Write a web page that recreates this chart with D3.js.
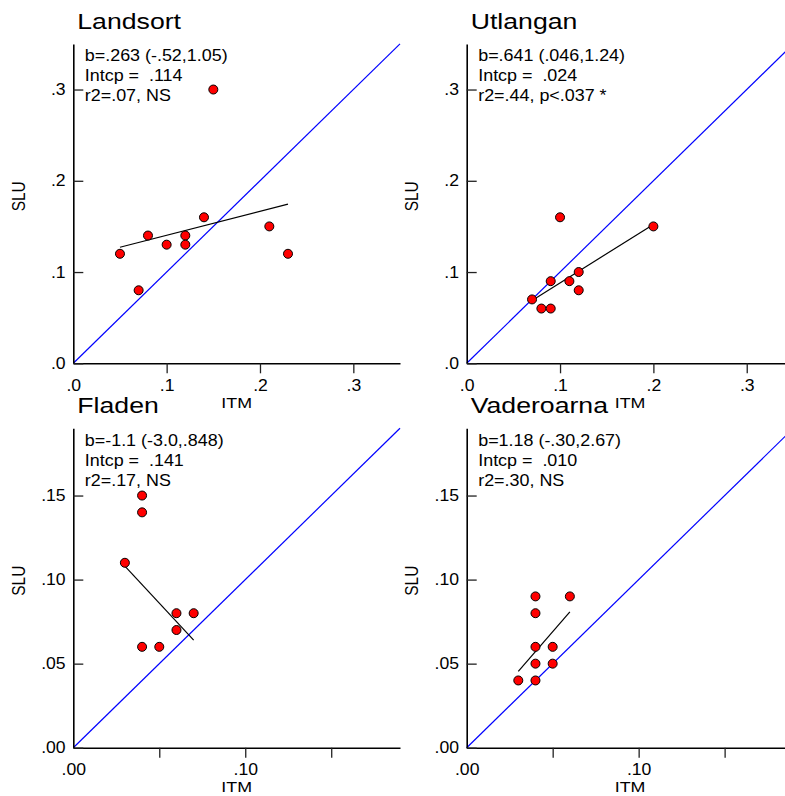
<!DOCTYPE html>
<html>
<head>
<meta charset="utf-8">
<script src="https://cdn.jsdelivr.net/npm/d3@7"></script>
<style>
  body { margin: 0; background: #fff; }
  svg { display: block; font-family: "Liberation Sans", Arial, sans-serif; }
</style>
</head>
<body>
<svg id="chart"></svg>
<script>
// data (ITM on x, SLU on y)
const sites = ["Landsort", "Utlangan", "Fladen", "Vaderoarna"];
const itm = [
  [.05, .07, .08, .10, .12, .12, .14, .15, .21, .23],
  [.07, .08, .09, .09, .10, .11, .12, .12, .20],
  [.03, .04, .04, .04, .05, .06, .06, .07],
  [.03, .04, .04, .04, .04, .04, .05, .05, .06]
];
const slu = [
  [.12, .08, .14, .13, .14, .13, .16, .30, .15, .12],
  [.07, .06, .06, .09, .16, .09, .10, .08, .15],
  [.11, .15, .14, .06, .06, .08, .07, .08],
  [.04, .04, .05, .06, .08, .09, .06, .05, .09]
];
const slopes = [.263, .641, -1.1, 1.18];
const intercepts = [.114, .024, .141, .010];
const statLines = [
  ["b=.263 (-.52,1.05)", "Intcp =  .114", "r2=.07, NS"],
  ["b=.641 (.046,1.24)", "Intcp =  .024", "r2=.44, p<.037 *"],
  ["b=-1.1 (-3.0,.848)", "Intcp =  .141", "r2=.17, NS"],
  ["b=1.18 (-.30,2.67)", "Intcp =  .010", "r2=.30, NS"]
];
const axisMax = [.35, .35, .19, .19];
const topTicks = [0, .1, .2, .3];
const topTickLabels = [".0", ".1", ".2", ".3"];
const lowTicks = [0, .05, .10, .15];
const lowYLabels = [".00", ".05", ".10", ".15"];
const lowXLabels = [".00", "", ".10", ""];

// layout
const W = 785, H = 796;
const panelW = 326.7, panelH = 319.4;
const origins = [
  { x: 73.3, y: 363.3 }, { x: 466.7, y: 363.3 },
  { x: 73.3, y: 747.7 }, { x: 466.7, y: 747.7 }
];
const STRETCH = { title: 1.24, stats: 1.12, tick: 1.1, axis: 1.15 };

const svg = d3.select("#chart").attr("width", W).attr("height", H);

// text drawn at (x,y) and widened horizontally
function label(g, str, x, y, size, s, anchor = "start") {
  return g.append("text")
    .attr("transform", `translate(${x},${y}) scale(${s},1)`)
    .attr("font-size", size)
    .attr("text-anchor", anchor)
    .style("white-space", "pre")
    .text(str);
}

sites.forEach((site, i) => {
  const o = origins[i];
  const isTop = i < 2;
  const g = svg.append("g");

  const x = d3.scaleLinear().domain([0, axisMax[i]]).range([o.x, o.x + panelW]);
  const y = d3.scaleLinear().domain([0, axisMax[i]]).range([o.y, o.y - panelH]);

  const ticks = isTop ? topTicks : lowTicks;
  const xLabels = isTop ? topTickLabels : lowXLabels;
  const yLabels = isTop ? topTickLabels : lowYLabels;

  // identity line
  g.append("line")
    .attr("x1", x(0)).attr("y1", y(0))
    .attr("x2", x(axisMax[i])).attr("y2", y(axisMax[i]))
    .attr("stroke", "#0000ff").attr("stroke-width", 1.2);

  // x axis, ticks pointing down
  const xAxisG = g.append("g")
    .attr("transform", `translate(0,${o.y})`)
    .call(d3.axisBottom(x).tickValues(ticks)
      .tickFormat((d, k) => xLabels[k])
      .tickSizeInner(10).tickSizeOuter(0).tickPadding(6));
  xAxisG.selectAll(".tick").filter(d => d === 0).select("line").remove();

  // y axis, ticks pointing in
  const yAxisG = g.append("g")
    .attr("transform", `translate(${o.x},0)`)
    .call(d3.axisLeft(y).tickValues(ticks)
      .tickFormat((d, k) => yLabels[k])
      .tickSizeInner(-10).tickSizeOuter(0).tickPadding(7));

  [xAxisG, yAxisG].forEach(a => {
    a.select(".domain").attr("stroke", "#000").attr("stroke-width", 1.6);
    a.selectAll(".tick line").attr("stroke", "#222").attr("stroke-width", 1.3);
    a.selectAll(".tick text")
      .attr("font-size", 16)
      .attr("font-family", "Liberation Sans, Arial, sans-serif")
      .attr("fill", "#000")
      .attr("transform", `scale(${STRETCH.tick},1)`);
  });
  xAxisG.selectAll(".tick text").attr("transform", null)
    .each(function () {
      const t = d3.select(this);
      t.attr("transform", `translate(0,0) scale(${STRETCH.tick},1)`);
    });

  // regression line over the ITM range
  const [x0, x1] = d3.extent(itm[i]);
  g.append("line")
    .attr("x1", x(x0)).attr("y1", y(intercepts[i] + slopes[i] * x0))
    .attr("x2", x(x1)).attr("y2", y(intercepts[i] + slopes[i] * x1))
    .attr("stroke", "#000").attr("stroke-width", 1.2);

  // points
  g.append("g").selectAll("circle")
    .data(itm[i].map((v, k) => [v, slu[i][k]]))
    .join("circle")
    .attr("cx", d => x(d[0]))
    .attr("cy", d => y(d[1]))
    .attr("r", 4.5)
    .attr("fill", "#ff0000")
    .attr("stroke", "#000")
    .attr("stroke-width", 1);

  // stats
  const top = o.y - panelH;
  statLines[i].forEach((s, k) => {
    label(g, s, o.x + 11.5, top + 17.5 + k * 20, 16, STRETCH.stats);
  });

  // titles and axis labels
  label(g, site, o.x + 4, top - 15, 21.5, STRETCH.title);
  label(g, "ITM", o.x + panelW / 2, o.y + 44.5, 15.5, STRETCH.axis, "middle");
  g.append("text")
    .attr("transform", `translate(${o.x - 48.4},${o.y - 167}) rotate(-90) scale(1,${STRETCH.axis})`)
    .attr("font-size", 15.5)
    .attr("text-anchor", "middle")
    .text("SLU");
});
</script>
</body>
</html>
